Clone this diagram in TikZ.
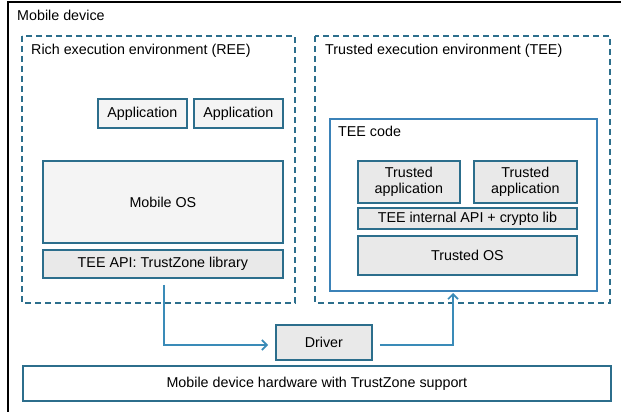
\documentclass[tikz,border=0pt]{standalone}
\usepackage{fontspec}
\setmainfont{Liberation Sans}
\usetikzlibrary{arrows.meta}
\definecolor{edge}{HTML}{2C6E8C}
\definecolor{codeblue}{HTML}{3B82B8}
\definecolor{arrowc}{HTML}{3A8BB8}
\definecolor{greyfill}{HTML}{E9E9E9}
\definecolor{lightfill}{HTML}{F4F4F4}
\tikzset{
  box/.style={draw=edge, line width=1.8pt, anchor=north west, inner sep=0pt, align=center, font=\fontsize{14.3}{16.5}\selectfont},
  greybox/.style={box, fill=greyfill},
  envbox/.style={draw=edge, line width=1.6pt, dash pattern=on 6pt off 4pt},
  lbl/.style={anchor=north west, inner sep=0pt, font=\fontsize{14.3}{16}\selectfont},
  flow/.style={draw=arrowc, line width=1.6pt, -{Straight Barb[length=5pt,width=10pt]}}
}
\begin{document}
\begin{tikzpicture}[x=1pt,y=-1pt]
\useasboundingbox (0,0) rectangle (621,412);
\fill[white] (0,0) rectangle (621,412);
% outer device box
\draw[black, line width=2pt] (8,2) rectangle (660,440);
\node[lbl] (devlbl) at (17,10) {Mobile device};
% REE
\draw[envbox] (22,36) rectangle (295,303);
\node[lbl] (reelbl) at (31,44) {Rich execution environment (REE)};
\node[box, fill=lightfill, minimum width=89pt, minimum height=29pt] (app1) at (97,98) {Application};
\node[box, fill=lightfill, minimum width=89pt, minimum height=29pt] (app2) at (193,98) {Application};
\node[box, fill=lightfill, minimum width=240pt, minimum height=82pt] (mos) at (42,160) {Mobile OS};
\node[greybox, minimum width=240pt, minimum height=28pt] (teeapi) at (42,249) {TEE API: TrustZone library};
% TEE
\draw[envbox] (315,36) rectangle (610,303);
\node[lbl] (teelbl) at (325,44) {Trusted execution environment (TEE)};
\node[draw=codeblue, line width=2pt, fill=white, anchor=north west, minimum width=267pt, minimum height=172pt, inner sep=0pt] (code) at (329,118) {};
\node[lbl] (codelbl) at (338,126) {TEE code};
\node[greybox, minimum width=102pt, minimum height=42pt] (ta1) at (357,160) {Trusted\\application};
\node[greybox, minimum width=103pt, minimum height=42pt] (ta2) at (473,160) {Trusted\\application};
\node[greybox, minimum width=219pt, minimum height=21pt] (iapi) at (357,207) {TEE internal API + crypto lib};
\node[greybox, minimum width=219pt, minimum height=39pt] (tos) at (357,235) {Trusted OS};
% driver & hardware
\node[greybox, minimum width=96pt, minimum height=35pt] (drv) at (275,324) {Driver};
\node[box, fill=white, minimum width=588pt, minimum height=35pt] (hw) at (22,365) {Mobile device hardware with TrustZone support};
% connectors
\coordinate (a1) at (164,345);
\coordinate (a2) at (453,345);
\draw[flow, shorten <=6pt, shorten >=7pt] (teeapi.south -| a1) |- (drv.west |- a1);
\draw[flow, shorten <=7pt, shorten >=1pt] (drv.east |- a2) -| (code.south -| a2);
\end{tikzpicture}
\end{document}
